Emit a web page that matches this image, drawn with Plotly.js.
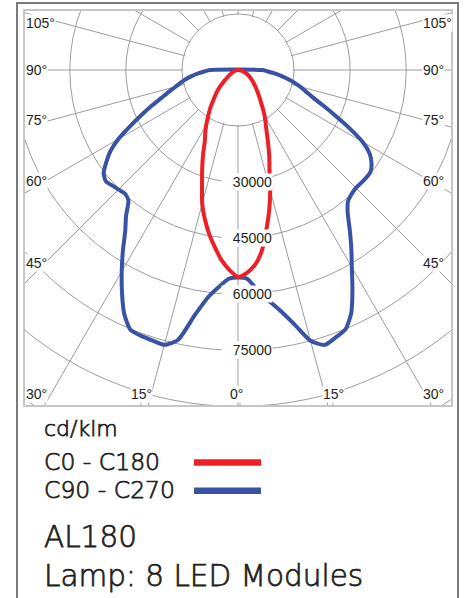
<!DOCTYPE html>
<html><head><meta charset="utf-8">
<script src="https://cdn.plot.ly/plotly-3.0.1.min.js"></script>
<style>
html,body{margin:0;padding:0;width:467px;height:598px;overflow:hidden;background:#fff;}
#chart{position:absolute;left:-162px;top:-330px;width:800px;height:930px;}
</style></head><body>
<div id="chart"></div>
<script>
// ---------- data (cd/klm) ----------
const gamma = [0, 2.5, 5, 7.5, 10, 12.5, 15, 17.5, 20, 22.5, 25, 27.5, 30, 32.5, 35, 37.5, 40, 42.5, 45,
               47.5, 50, 52.5, 55, 57.5, 60, 62.5, 65, 67.5, 70, 72.5, 75, 77.5, 80, 82.5, 85, 87.5, 90];
const c0   = [55300, 54300, 52300, 48800, 43500, 38500, 33300, 28000, 24400, 21000, 18100, 16000, 14300, 12500, 10800, 9600, 8500, 7600, 6800,
              6100, 5500, 4900, 4400, 4000, 3600, 3200, 2800, 2400, 2000, 1700, 1400, 1100, 800, 550, 350, 150, 0];
const c180 = [55300, 53500, 51000, 47700, 44500, 40900, 37000, 32000, 28000, 24400, 21000, 19000, 17000, 15000, 13300, 11600, 10000, 8800, 7600,
              6400, 5200, 4300, 3600, 3000, 2500, 2100, 1800, 1500, 1300, 1100, 900, 700, 550, 400, 300, 150, 0];
const c90  = [55500, 55900, 59000, 62100, 65400, 69700, 75000, 77100, 76200, 75100, 71700, 66300, 60900, 56400, 52100, 48200, 45800, 45000, 44600,
              44700, 44800, 44700, 43600, 41800, 38500, 33500, 28500, 24500, 21200, 19000, 17200, 15300, 13400, 11500, 9600, 7800, 6500];
const c270 = [55500, 55900, 58200, 61300, 66600, 73900, 76100, 75900, 75700, 75200, 72000, 67200, 62200, 57300, 52600, 49200, 45600, 44800, 45200,
              45700, 46200, 45300, 43000, 40500, 37000, 32500, 28500, 25000, 21800, 19400, 17300, 15700, 14200, 12500, 10700, 9000, 7500];
const gridRadii = [15000, 30000, 45000, 60000, 75000, 90000, 105000];
const radialLabels = [30000, 45000, 60000, 75000];
const sideAngleLabels = ['105°', '90°', '75°', '60°', '45°', '30°'];
const bottomAngleLabels = ['15°', '0°', '15°'];
const legendNames = ['C0 - C180', 'C90 - C270'];
const seriesColors = ['#ee2027', '#3a52a3'];
const unitLabel = 'cd/klm';
const infoLines = ['AL180', 'Lamp: 8 LED Modules'];
const RMAX = 107000;

// ---------- page geometry ----------
const FIG = {left: -162, top: -330, w: 800, h: 930};
const CY = 70, RPX = 400;
const px = x => (x - FIG.left) / FIG.w;
const py = y => 1 - (y - FIG.top) / FIG.h;
const ry = v => CY + v * RPX / RMAX;

function plane(right, left) {
  const th = [], r = [];
  for (let i = gamma.length - 1; i >= 0; i--) { th.push(-gamma[i]); r.push(left[i]); }
  for (let i = 1; i < gamma.length; i++) { th.push(gamma[i]); r.push(right[i]); }
  th.push(th[0]); r.push(r[0]);
  return {th, r};
}
const pRed = plane(c0, c180), pBlue = plane(c90, c270);

const traces = [
  {type: 'barpolar', r: [gridRadii[0] * 0.98, gridRadii[0] * 0.98], theta: [90, 270], width: [180, 180],
   marker: {color: '#ffffff', line: {width: 0}}, hoverinfo: 'skip', showlegend: false},
  {type: 'scatterpolar', mode: 'lines', name: legendNames[1], theta: pBlue.th, r: pBlue.r,
   line: {color: seriesColors[1], width: 4, shape: 'spline', smoothing: 0.6}},
  {type: 'scatterpolar', mode: 'lines', name: legendNames[0], theta: pRed.th, r: pRed.r,
   line: {color: seriesColors[0], width: 4, shape: 'spline', smoothing: 0.6}}
];

const GRID = '#9c9c9c';
const TXT = '#231f20';
const shapes = [];
function rect(x0, y0, x1, y1, opts) {
  shapes.push(Object.assign({type: 'rect', xref: 'paper', yref: 'paper', layer: 'above',
    x0: px(x0), x1: px(x1), y0: py(y1), y1: py(y0)}, opts));
}
function line(x0, y0, x1, y1, color, width) {
  shapes.push({type: 'line', xref: 'paper', yref: 'paper', layer: 'above',
    x0: px(x0), x1: px(x1), y0: py(y0), y1: py(y1), line: {color: color, width: width}});
}
const white = {fillcolor: '#ffffff', line: {width: 0}};
rect(-170, -340, 23, 610, white);
rect(453, -340, 650, 610, white);
rect(-170, -340, 650, 9, white);
rect(-170, 407, 650, 610, white);
rect(24, 10, 452, 406, {line: {color: '#c6c6c6', width: 2}, fillcolor: 'rgba(0,0,0,0)'});
line(17, 3, 17, 605, '#7a7a7a', 2);
line(16, 3, 459, 3, '#7a7a7a', 2);
line(458, 3, 458, 605, '#7a7a7a', 2);
// small ticks on the bottom edge
[141, 240, 333].forEach(x => line(x, 402, x, 407, '#b0b0b0', 1));
// legend keys
line(194, 462.5, 261, 462.5, seriesColors[0], 6.5);
line(194, 490.7, 261, 490.7, seriesColors[1], 6.5);

const ann = [];
function label(text, x, y, xanchor, size, extra) {
  ann.push(Object.assign({text: text, x: px(x), y: py(y), xref: 'paper', yref: 'paper', showarrow: false,
    xanchor: xanchor, yanchor: 'middle', borderpad: 0,
    font: {family: 'Liberation Sans, Arial, sans-serif', size: size, color: TXT}}, extra || {}));
}
const sideY = [22.5, 70, 120, 181, 263, 393.5];
sideAngleLabels.forEach((t, i) => {
  label(t, 24.5, sideY[i], 'left', 14, {bgcolor: '#ffffff'});
  label(t, 421.5, sideY[i], 'left', 14, {bgcolor: '#ffffff'});
});
const bottomX = [141, 236, 333];
bottomAngleLabels.forEach((t, i) => label(t, bottomX[i], 393.5, 'center', 14, {bgcolor: '#ffffff'}));
radialLabels.forEach(v => label(String(v), 273, ry(v), 'right', 14, {bgcolor: '#ffffff', width: 50, align: 'right'}));

const firstLegendAnn = ann.length;
const LF = {family: 'DejaVu Sans, Liberation Sans, sans-serif', color: TXT, weight: 300};
function leg(text, y, size) {
  ann.push({text: text, x: px(41.5), y: py(y), xref: 'paper', yref: 'paper', showarrow: false,
    xanchor: 'left', yanchor: 'middle', font: Object.assign({size: size}, LF)});
}
leg(unitLabel, 428, 22);
leg(legendNames[0], 461.8, 23.5);
leg(legendNames[1], 490.2, 23.5);
leg(infoLines[0], 537, 29.5);
leg(infoLines[1], 576, 29.5);

const layout = {
  width: FIG.w, height: FIG.h, margin: {l: 0, r: 0, t: 0, b: 0},
  paper_bgcolor: '#ffffff', showlegend: false,
  polar: {
    domain: {x: [0, 1], y: [1 - 800 / FIG.h, 1]}, bgcolor: '#ffffff', bargap: 0,
    radialaxis: {range: [0, RMAX], tickmode: 'array', tickvals: gridRadii, showticklabels: false, ticks: '',
      showline: false, gridcolor: GRID, gridwidth: 1},
    angularaxis: {rotation: -90, direction: 'counterclockwise', tickmode: 'linear', tick0: 0, dtick: 15,
      showticklabels: false, ticks: '', showline: false, gridcolor: GRID, gridwidth: 1}
  },
  shapes: shapes, annotations: ann
};
Plotly.newPlot('chart', traces, layout, {staticPlot: true, displayModeBar: false}).then(gd => {
  // give the light legend lettering a slightly firmer stroke, as in the original artwork
  gd.querySelectorAll('g.annotation').forEach(g => {
    const idx = +g.getAttribute('data-index');
    if (idx >= firstLegendAnn) {
      const t = g.querySelector('text');
      if (t) { t.style.stroke = TXT; t.style.strokeWidth = '0.75px'; }
    }
  });
});
</script>
</body></html>
